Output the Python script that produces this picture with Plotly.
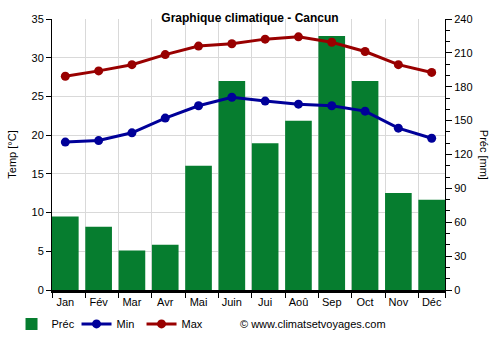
import plotly.graph_objects as go

months = ["Jan", "Fév", "Mar", "Avr", "Mai", "Juin", "Jui", "Aoû", "Sep", "Oct", "Nov", "Déc"]
precip = [65, 56, 35, 40, 110, 185, 130, 150, 225, 185, 86, 80]
tmin = [19.1, 19.3, 20.3, 22.2, 23.8, 24.9, 24.4, 24.0, 23.8, 23.1, 20.9, 19.6]
tmax = [27.6, 28.3, 29.1, 30.4, 31.5, 31.8, 32.4, 32.7, 32.0, 30.8, 29.1, 28.1]

x = list(range(len(months)))
FONT = "Liberation Sans, Arial, sans-serif"

fig = go.Figure()
fig.add_trace(go.Bar(x=x, y=precip, name="Préc", marker_color="#067d2f",
                     marker_line_width=0, width=0.8, yaxis="y"))
fig.add_trace(go.Scatter(x=x, y=tmin, name="Min", mode="lines+markers", yaxis="y2",
                         line=dict(color="#000099", width=3),
                         marker=dict(size=9, color="#000099")))
fig.add_trace(go.Scatter(x=x, y=tmax, name="Max", mode="lines+markers", yaxis="y2",
                         line=dict(color="#990000", width=3),
                         marker=dict(size=9, color="#990000")))

fig.update_layout(
    width=500, height=350,
    margin=dict(l=49, r=55, t=19, b=58),
    paper_bgcolor="white", plot_bgcolor="white",
    font=dict(family=FONT, size=11, color="#000"),
    title=dict(text="<b>Graphique climatique - Cancun</b>", x=0.5, xanchor="center",
               y=1 - 18 / 350, yanchor="middle", font=dict(size=12, color="#000")),
    showlegend=True,
    legend=dict(orientation="h", x=-0.103, xanchor="left", y=-0.125, yanchor="middle",
                font=dict(size=11), entrywidth=20, entrywidthmode="pixels",
                tracegroupgap=0),
    xaxis=dict(range=[-0.4, 11.4], tickvals=x, ticktext=months, ticks="",
               showgrid=False, zeroline=False, showline=True, linecolor="#000",
               linewidth=3, layer="below traces",
               minor=dict(tickvals=[i - 0.4 for i in x] + [11.4], ticks="outside",
                          ticklen=5, tickcolor="#000", showgrid=True,
                          gridcolor="#d9d9d9", gridwidth=1)),
    yaxis2=dict(range=[0, 35], dtick=5, ticks="outside", ticklen=5, tickcolor="#000",
                overlaying="y", side="left",
                showline=True, linecolor="#000", linewidth=1, showgrid=True,
                gridcolor="#d9d9d9", zeroline=False,
                title=dict(text="Temp [°C]", standoff=12, font=dict(size=11))),
    yaxis=dict(range=[0, 240], dtick=30, side="right",
               ticks="outside", ticklen=6, tickcolor="#000", showline=True,
               linecolor="#000", linewidth=1, showgrid=False, zeroline=False,
               minor=dict(dtick=10, ticks="outside", ticklen=4, tickcolor="#000",
                          showgrid=False)),
    bargap=0.2,
    annotations=[
        dict(text="Préc [mm]", textangle=90, xref="paper", yref="paper",
             x=1 + 40 / 396, xanchor="center", y=0.5, showarrow=False,
             font=dict(size=11)),
        dict(text="© www.climatsetvoyages.com", xref="paper", yref="paper",
             x=(236 - 49) / 396, xanchor="left", y=-0.125, yanchor="middle",
             showarrow=False, font=dict(size=11)),
    ],
)
fig.write_html("out.html")
